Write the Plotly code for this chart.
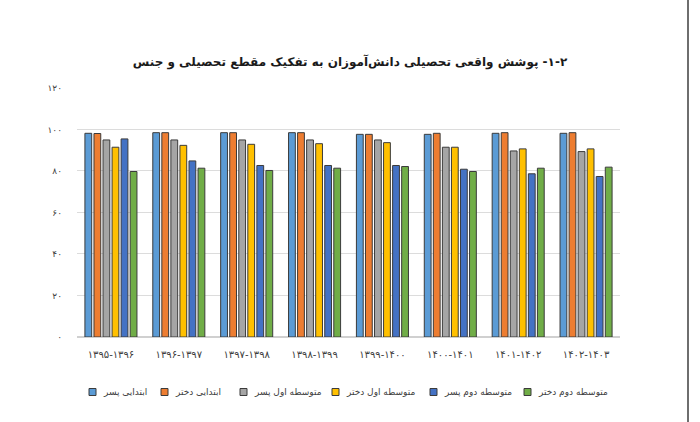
#!/usr/bin/env python3

import plotly.graph_objs as go

# Categories (academic years) and y tick labels, in Persian digits
years = [
    "۱۳۹۵-۱۳۹۶", "۱۳۹۶-۱۳۹۷", "۱۳۹۷-۱۳۹۸", "۱۳۹۸-۱۳۹۹",
    "۱۳۹۹-۱۴۰۰", "۱۴۰۰-۱۴۰۱", "۱۴۰۱-۱۴۰۲", "۱۴۰۲-۱۴۰۳",
]
y_tick_vals = [0, 20, 40, 60, 80, 100, 120]
y_tick_text = ["۰", "۲۰", "۴۰", "۶۰", "۸۰", "۱۰۰", "۱۲۰"]

# Coverage values
ebtedaei_pesar = [98.1, 98.4, 98.4, 98.4, 97.6, 97.6, 98.1, 98.1]
ebtedaei_dokhtar = [98.0, 98.4, 98.4, 98.4, 97.6, 98.1, 98.4, 98.4]
motavasete_aval_pesar = [94.9, 94.9, 94.9, 94.9, 94.9, 91.4, 89.6, 89.3]
motavasete_aval_dokhtar = [91.4, 92.3, 92.8, 93.1, 93.6, 91.4, 90.6, 90.6]
motavasete_dovom_pesar = [95.4, 84.8, 82.6, 82.6, 82.6, 80.8, 78.6, 77.3]
motavasete_dovom_dokhtar = [79.7, 81.3, 80.2, 81.3, 82.1, 79.7, 81.3, 81.8]

series_names = [
    "ابتدایی پسر", "ابتدایی دختر", "متوسطه اول پسر",
    "متوسطه اول دختر", "متوسطه دوم پسر", "متوسطه دوم دختر",
]
series_values = [
    ebtedaei_pesar, ebtedaei_dokhtar, motavasete_aval_pesar,
    motavasete_aval_dokhtar, motavasete_dovom_pesar, motavasete_dovom_dokhtar,
]
colors = ["#5B9BD5", "#ED7D31", "#A5A5A5", "#FFC000", "#4472C4", "#70AD47"]

title_text = "۱-۲- پوشش واقعی تحصیلی دانش‌آموزان به تفکیک مقطع تحصیلی و جنس"

font_family = "DejaVu Sans, Noto Sans, sans-serif"

# plot area in pixels (used to place the hand-made legend)
W, H = 700, 422
L, R, T, B = 77, 80, 87, 85
pw, ph = W - L - R, H - T - B

fig = go.Figure()

for name, vals, col in zip(series_names, series_values, colors):
    fig.add_trace(
        go.Bar(
            x=years,
            y=vals,
            name=name,
            marker=dict(color=col, line=dict(color="#3b3b3b", width=1)),
        )
    )

fig.update_layout(
    width=W,
    height=H,
    paper_bgcolor="white",
    plot_bgcolor="white",
    barmode="group",
    bargap=0.2,
    bargroupgap=0.25,
    margin=dict(l=L, r=R, t=T, b=B, autoexpand=False),
    font=dict(family=font_family, size=10, color="#404040"),
    title=dict(
        # RTL embedding so the section number sits on the right
        text="<b>\u202b" + title_text + "\u202c</b>",
        x=0.5,
        xanchor="center",
        y=0.853,
        yanchor="middle",
        font=dict(size=12, color="#1a1a1a"),
    ),
    showlegend=False,
    xaxis=dict(
        showgrid=False,
        showline=False,
        ticks="",
        ticklabelstandoff=10,
        tickfont=dict(size=10, color="#404040"),
    ),
    yaxis=dict(
        # a hair above 120 so the top gridline is still drawn
        range=[0, 120.4],
        tickvals=y_tick_vals,
        ticktext=y_tick_text,
        showgrid=True,
        gridcolor="#dcdcdc",
        gridwidth=1,
        zeroline=True,
        zerolinecolor="#d0d0d0",
        showline=False,
        ticks="",
        ticklabelstandoff=14,
        tickfont=dict(size=9, color="#404040"),
    ),
)

# legend drawn by hand: small square followed by its label
legend_px = [89, 161, 240, 332, 430, 524]
legend_py = 392
sq = 7
for px, name, col in zip(legend_px, series_names, colors):
    x0 = (px - L) / pw
    x1 = (px + sq - L) / pw
    y0 = (T + ph - (legend_py + sq / 2)) / ph
    y1 = (T + ph - (legend_py - sq / 2)) / ph
    fig.add_shape(
        type="rect", xref="paper", yref="paper",
        x0=x0, x1=x1, y0=y0, y1=y1,
        fillcolor=col, line=dict(color="#3b3b3b", width=1),
    )
    fig.add_annotation(
        xref="paper", yref="paper",
        x=(px + sq + 5 - L) / pw, y=(y0 + y1) / 2,
        xanchor="left", yanchor="middle",
        text=name, showarrow=False,
        font=dict(size=9, color="#404040"),
    )

# page edge line on the right side of the picture
fig.add_shape(
    type="line",
    xref="paper",
    yref="paper",
    x0=(688 - L) / pw,
    x1=(688 - L) / pw,
    y0=-0.4,
    y1=1.4,
    line=dict(color="#6e6e6e", width=2),
)

# drop the default page margin so the figure sits at the window's corner
fig.write_html(
    "out.html",
    config={"displayModeBar": False},
    post_script="document.body.style.margin='0px';",
)
